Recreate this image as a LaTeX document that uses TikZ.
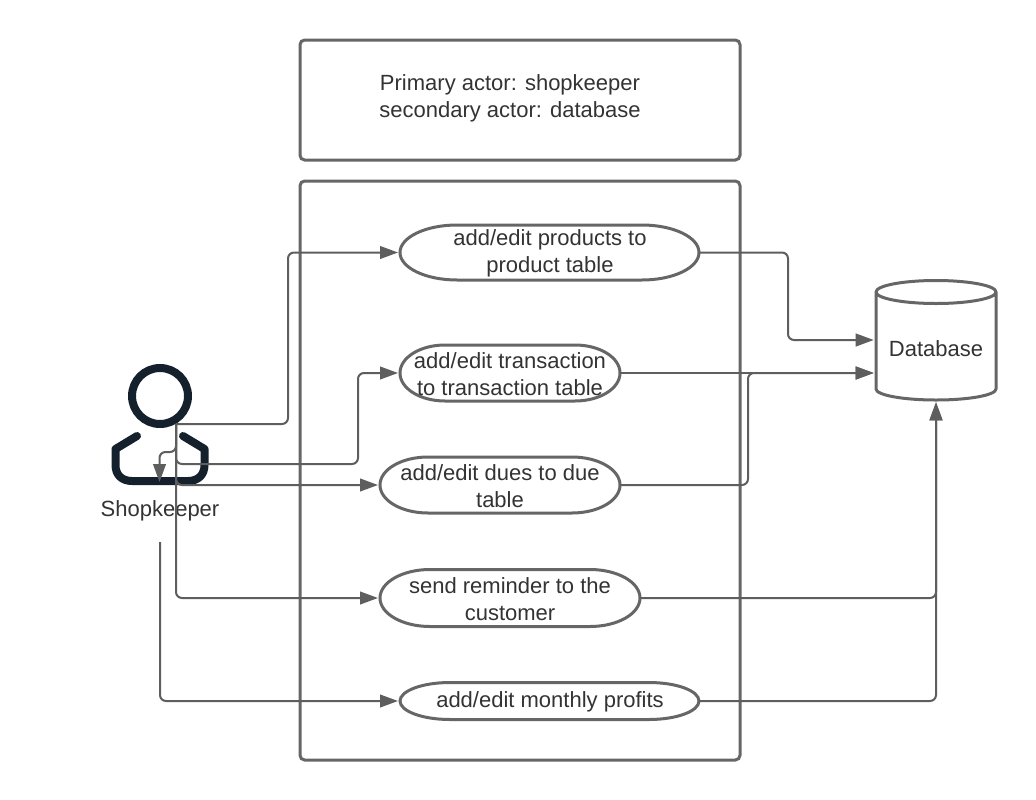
\documentclass[tikz,border=0pt]{standalone}
\usepackage{fontspec}
\setmainfont{Liberation Sans}
\usetikzlibrary{arrows.meta,calc}
\definecolor{shapeline}{HTML}{666666}
\definecolor{conn}{HTML}{5E5E5E}
\definecolor{txt}{HTML}{333333}
\definecolor{person}{HTML}{14202B}
\def\px{0.75pt}
\tikzset{
  x=0.75pt,y=-0.75pt,
  boxline/.style={draw=shapeline,line width=2.25pt},
  frame/.style={boxline,rounded corners=3.5pt},
  label text/.style={text=txt,font=\fontsize{16.5}{20}\selectfont,align=center,inner sep=0pt},
  link/.style={draw=conn,line width=1.5pt,rounded corners=4.5pt},
  arrowlink/.style={link,-{Triangle[length=13.5pt,width=9.5pt]},shorten >=1.5pt},
  figure/.style={draw=person,line width=6pt,line cap=round,line join=round},
}
% name, left, right, centre y, height, end radius, text centre x, text
\newcommand\usecase[8]{%
  \coordinate (#1 nw) at (#2,#4-#5/2);
  \coordinate (#1 ne) at (#3,#4-#5/2);
  \coordinate (#1 sw) at (#2,#4+#5/2);
  \coordinate (#1 se) at (#3,#4+#5/2);
  \coordinate (#1) at ({(#2+#3)/2},#4);
  \coordinate (#1 west) at (#2,#4);
  \coordinate (#1 east) at (#3,#4);
  \draw[boxline] ($(#1 nw)+(#6,0)$) -- ($(#1 ne)+(-#6,0)$)
     arc[start angle=90,end angle=-90,x radius=#6*\px,y radius=#5/2*\px]
     -- ($(#1 sw)+(#6,0)$)
     arc[start angle=270,end angle=90,x radius=#6*\px,y radius=#5/2*\px] -- cycle;
  \node[label text] (#1 text) at (#7,#4+1) {#8};
}
\begin{document}
\begin{tikzpicture}
\useasboundingbox (0,0) rectangle (1036,800);
\fill[white] (0,0) rectangle (1036,800);

% frames
\draw[frame] (300,40) rectangle (740,160);
\node[label text] (note) at (510,98) {Primary actor: shopkeeper\\secondary actor: database};
\draw[frame] (300,181) rectangle (740,760);

% use cases
\usecase{prod}{400}{699}{252.5}{55}{57}{550}{add/edit products to\\product table}
\usecase{trans}{400}{620}{373}{56}{45}{510}{add/edit transaction\\to transaction table}
\usecase{dues}{380}{620}{485}{56}{48}{500}{add/edit dues to due\\table}
\usecase{rem}{380}{640}{598}{57}{50}{510}{send reminder to the\\customer}
\usecase{mon}{400}{699}{701}{37}{50}{550}{add/edit monthly profits}

% database
\node[minimum width=120*\px,minimum height=120*\px,inner sep=0pt,
      label={[label text,yshift=-6.5pt]center:Database}] (db) at (936,340) {};
\draw[boxline,line join=round] (876,292)
   arc[start angle=180,end angle=0,x radius=60*\px,y radius=11.5*\px]
   arc[start angle=0,end angle=-180,x radius=60*\px,y radius=11.5*\px]
   -- (876,389)
   arc[start angle=180,end angle=360,x radius=60*\px,y radius=11*\px]
   -- (996,292);

% actor
\node[circle,draw=person,line width=6pt,minimum size=56*\px,inner sep=0pt] (head) at (160,396) {};
\draw[figure] (137,436) -- (115.5,449) -- (115.5,465)
   .. controls (115.5,475) and (122,481) .. (132,481) -- (188,481)
   .. controls (198,481) and (204.5,475) .. (204.5,465) -- (204.5,449) -- (183,436);
\node[label text] (shop) at (160,511) {Shopkeeper};
\coordinate (src) at (176,424);
\coordinate (src2) at (160,542);

% connectors
\draw[arrowlink] (src) -- (288,424) -- (288,252.5) -- (prod west);
\draw[arrowlink] (src) -- (176,464) -- (358,464) -- (358,373) -- (trans west);
\draw[arrowlink] (src) -- (176,485) -- (dues west);
\draw[arrowlink] (src) -- (176,598) -- (rem west);
\draw[arrowlink] (src) -- (176,452) -- (159.5,452) -- (159.5,484);
\draw[arrowlink] (src2) -- (160,701) -- (mon west);

\draw[arrowlink] (prod east) -- (788,252.5) -- (788,340) -- (db.west);
\draw[arrowlink] (trans east) -- (db.west |- trans east);
\draw[arrowlink] (dues east) -- (748,485) -- (748,373) -- (db.west |- trans east);
\draw[arrowlink] (rem east) -- (936,598) -- (db.south);
\draw[arrowlink] (mon east) -- (936,701) -- (db.south);
\end{tikzpicture}
\end{document}
